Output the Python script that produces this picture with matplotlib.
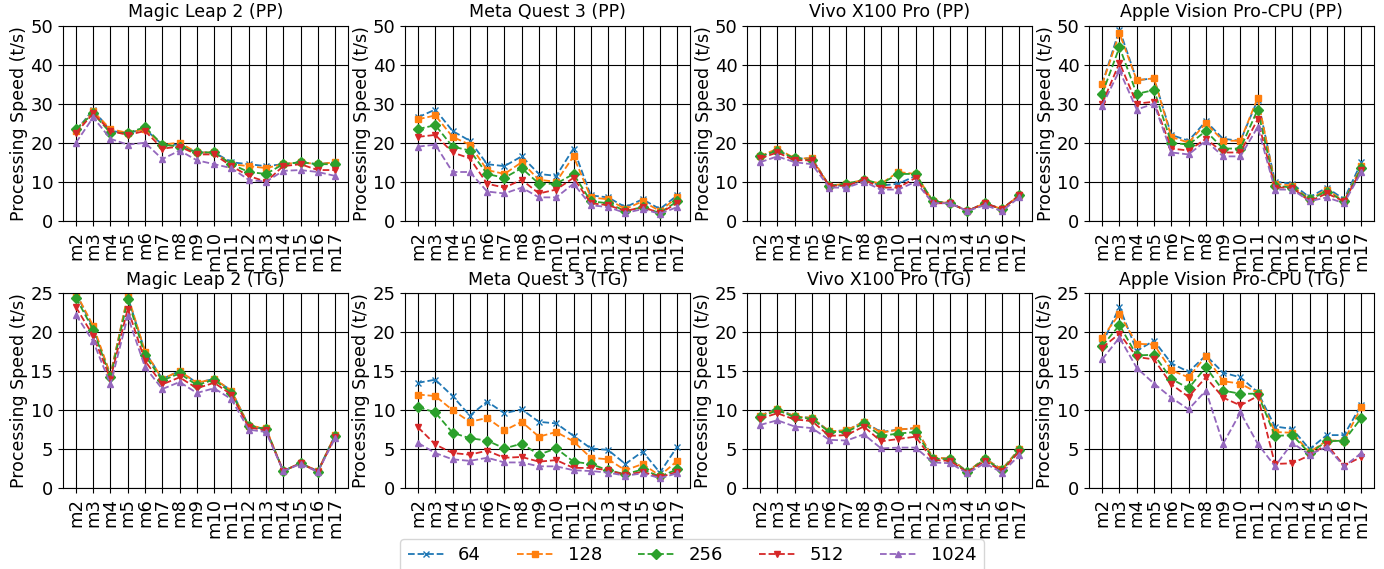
import matplotlib
matplotlib.use('Agg')
import matplotlib.pyplot as plt

# x 轴模型编号
models = ['m%d' % i for i in range(2, 18)]
batch_sizes = ['64', '128', '256', '512', '1024']

# Prompt processing (PP), 每行对应一个 batch size
ml2_pp = [
    [23, 28.5, 23, 22.5, 23.5, 19.5, 19.5, 17.5, 17.5, 15, 14.5, 14, 14.5, 15, 14.5, 15],
    [23, 28, 23.5, 22.5, 23.5, 19.5, 20, 17.5, 17.5, 14.5, 14, 13.5, 14.5, 15, 14.5, 15],
    [23.5, 27.5, 22.5, 22.5, 24, 19.5, 19, 17.5, 17.5, 14.5, 12.5, 12, 14.5, 15, 14.5, 14.5],
    [22.5, 27.5, 23, 22, 23, 18.5, 19, 17, 17, 14, 11.5, 10, 14, 14.5, 13, 13],
    [20, 26.5, 21, 19.5, 20, 15.8, 18, 15.5, 14.5, 13.5, 10.5, 10, 12.8, 13, 12.5, 11.5],
]
mq3_pp = [
    [26.5, 28.5, 23, 20.5, 14.5, 14, 16.5, 12, 11.5, 18.5, 6.5, 6, 3.5, 5.5, 3, 6.5],
    [26, 27, 21.5, 19.5, 13, 12, 15, 10.5, 10, 16.5, 6, 5.5, 3, 5, 2.5, 6],
    [23.5, 24.5, 19, 18, 12, 11, 13.5, 9.5, 9.5, 12, 5, 4.5, 2.5, 3.5, 2, 5],
    [21.5, 22, 17.5, 16, 9.5, 8.5, 10.5, 7, 8, 11, 4.5, 4, 2.5, 3.5, 2, 4.5],
    [19, 19.5, 12.5, 12.5, 7.5, 7, 8.5, 6, 6, 9.5, 4, 3.5, 2, 3, 1.8, 3.5],
]
vivo_pp = [
    [16.5, 18, 16, 16, 9, 9, 10.5, 9, 9.5, 11.5, 5, 4.5, 2.5, 4.5, 3, 6.5],
    [16.5, 18.5, 16, 16, 9, 9.5, 10.5, 9.5, 12.5, 12, 5, 4.5, 2.5, 4.5, 3, 6.5],
    [16.5, 18, 16, 15.5, 9, 9.5, 10.5, 9.5, 12, 12, 5, 4.5, 2.5, 4.5, 3, 6.5],
    [16, 17.5, 15.5, 15.5, 9, 9, 10.5, 8.5, 8.5, 11, 4.5, 4.5, 2.5, 4.5, 3, 6.5],
    [15, 16.5, 15, 14.5, 8.5, 8.5, 10, 8, 8, 10, 4.5, 4.5, 2.5, 4, 2.5, 6],
]
avp_pp = [
    [35, 49, 36, 36.5, 22, 20.5, 25.5, 21, 20.5, 31, 10, 9.5, 6, 8.5, 5.5, 15],
    [35, 48, 36, 36.5, 21.5, 20, 25, 20.5, 20.5, 31.5, 9.5, 9, 5.5, 8, 5, 14],
    [32.5, 44.5, 32.5, 33.5, 20, 19.5, 23, 18.5, 18.5, 28.5, 9, 8.5, 5.5, 7.5, 5, 13.5],
    [30, 40.5, 30, 30.5, 18.5, 18, 21, 17.5, 17.5, 26, 8.5, 8.5, 5, 7, 5, 13],
    [29.5, 38.5, 28.5, 30, 17.5, 17, 20.5, 16.5, 16.5, 24, 8, 8, 5, 6, 4.5, 12.5],
]

# Token generation (TG)
ml2_tg = [
    [25, 20.5, 14.5, 24.5, 17.5, 14, 15, 13.5, 14, 12.5, 8, 7.5, 2.2, 3.2, 2.2, 6.8],
    [25, 20.8, 14.5, 24.7, 17.5, 14, 15, 13.5, 14, 12.5, 8, 7.7, 2.2, 3.2, 2.2, 6.8],
    [24.4, 20.3, 14.2, 24.2, 17, 13.8, 14.7, 13.2, 13.9, 12.2, 8, 7.6, 2.2, 3.2, 2.1, 6.7],
    [23.2, 19.5, 14, 23, 16.3, 13.3, 14.2, 12.8, 13.5, 12, 7.8, 7.4, 2.2, 3.2, 2.1, 6.6],
    [22.2, 18.8, 13.3, 22, 15.5, 12.7, 13.6, 12.2, 12.8, 11.4, 7.5, 7.2, 2.2, 3.1, 2.1, 6.4],
]
mq3_tg = [
    [13.5, 13.9, 11.8, 9.3, 11.1, 9.6, 10.1, 8.5, 8.3, 6.7, 5.1, 4.9, 3.1, 4.7, 2, 5.3],
    [12, 11.8, 10, 8.5, 9, 7.4, 8.5, 6.6, 7.2, 6, 3.9, 3.7, 2.3, 3.1, 1.6, 3.5],
    [10.4, 9.7, 7.1, 6.4, 6.1, 5.1, 5.7, 4.3, 5.1, 3.4, 3.1, 2.3, 1.8, 2.4, 1.5, 2.4],
    [7.8, 5.6, 4.5, 4.3, 4.8, 3.9, 4.0, 3.4, 3.6, 2.6, 2.6, 2.3, 1.7, 2.1, 1.4, 2.1],
    [5.8, 4.5, 3.7, 3.5, 3.9, 3.3, 3.3, 2.8, 2.8, 2.3, 2.2, 2.0, 1.6, 1.9, 1.3, 1.9],
]
vivo_tg = [
    [9.3, 10.2, 9.2, 9.0, 7.3, 7.4, 8.5, 7.2, 7.5, 7.7, 3.9, 3.8, 2.1, 3.8, 2.4, 5.0],
    [9.3, 10.1, 9.2, 9.0, 7.3, 7.4, 8.5, 7.1, 7.5, 7.7, 3.9, 3.8, 2.1, 3.8, 2.4, 5.0],
    [9.1, 10.0, 9.1, 8.9, 7.2, 7.2, 8.3, 6.7, 7.0, 7.2, 3.8, 3.7, 2.1, 3.7, 2.3, 4.9],
    [8.9, 9.6, 8.8, 8.6, 6.7, 6.8, 7.9, 6.0, 6.3, 6.6, 3.6, 3.5, 2.0, 3.5, 2.2, 4.7],
    [8.1, 8.7, 7.9, 7.7, 6.2, 6.1, 6.9, 5.1, 5.2, 5.2, 3.3, 3.2, 1.9, 3.2, 2.0, 4.2],
]
avp_tg = [
    [18.5, 23.2, 17.6, 18.9, 16, 14.9, 17, 14.8, 14.2, 12.3, 7.9, 7.6, 5.0, 6.8, 6.8, 10.7],
    [19.3, 22.3, 18.5, 18.4, 15.1, 14.2, 16.9, 13.7, 13.4, 12.2, 7.2, 7.1, 4.6, 6.1, 6.1, 10.4],
    [18.2, 20.9, 17.0, 17.1, 14.0, 12.8, 15.5, 12.5, 12.1, 12.1, 6.7, 6.8, 4.5, 6.0, 6.1, 9.0],
    [18.0, 19.8, 16.8, 16.5, 13.3, 11.7, 14.2, 11.6, 10.6, 11.8, 3.1, 3.2, 4.2, 5.6, 2.9, 4.0],
    [16.5, 19.3, 15.4, 13.4, 11.6, 10.1, 12.5, 5.7, 9.7, 5.7, 2.8, 5.8, 4.3, 5.3, 2.8, 4.5],
]

panels = [
    ('Magic Leap 2 (PP)', ml2_pp, 50), ('Meta Quest 3 (PP)', mq3_pp, 50),
    ('Vivo X100 Pro (PP)', vivo_pp, 50), ('Apple Vision Pro-CPU (PP)', avp_pp, 50),
    ('Magic Leap 2 (TG)', ml2_tg, 25), ('Meta Quest 3 (TG)', mq3_tg, 25),
    ('Vivo X100 Pro (TG)', vivo_tg, 25), ('Apple Vision Pro-CPU (TG)', avp_tg, 25),
]
markers = ['x', 's', 'D', 'v', '^']
colors = ['tab:blue', 'tab:orange', 'tab:green', 'tab:red', 'tab:purple']

plt.rcParams['font.size'] = 12.5
fig, axes = plt.subplots(2, 4, figsize=(13.84, 5.69), dpi=100)
for ax, (title, data, ymax) in zip(axes.flat, panels):
    for vals, lab, mk, c in zip(data, batch_sizes, markers, colors):
        ax.plot(models, vals, linestyle='--', marker=mk, color=c,
                markersize=5, linewidth=1.3, label=lab)
    ax.set_title(title, fontsize=12.5)
    ax.set_ylim(0, ymax)
    ax.set_ylabel('Processing Speed (t/s)', fontsize=12.5, labelpad=1.5)
    ax.tick_params(axis='both', labelsize=13)
    ax.tick_params(axis='x', rotation=90)
    ax.grid(True, color='black', linewidth=0.8)
    ax.set_axisbelow(True)

handles, labels = axes[0, 0].get_legend_handles_labels()
fig.legend(handles, labels, loc='lower center', ncol=5,
           bbox_to_anchor=(0.5, -0.02), fontsize=13)
plt.subplots_adjust(left=0.0455, right=0.993, top=0.955, bottom=0.142,
                    wspace=0.2, hspace=0.37)
fig.savefig('out.png', dpi=100)
